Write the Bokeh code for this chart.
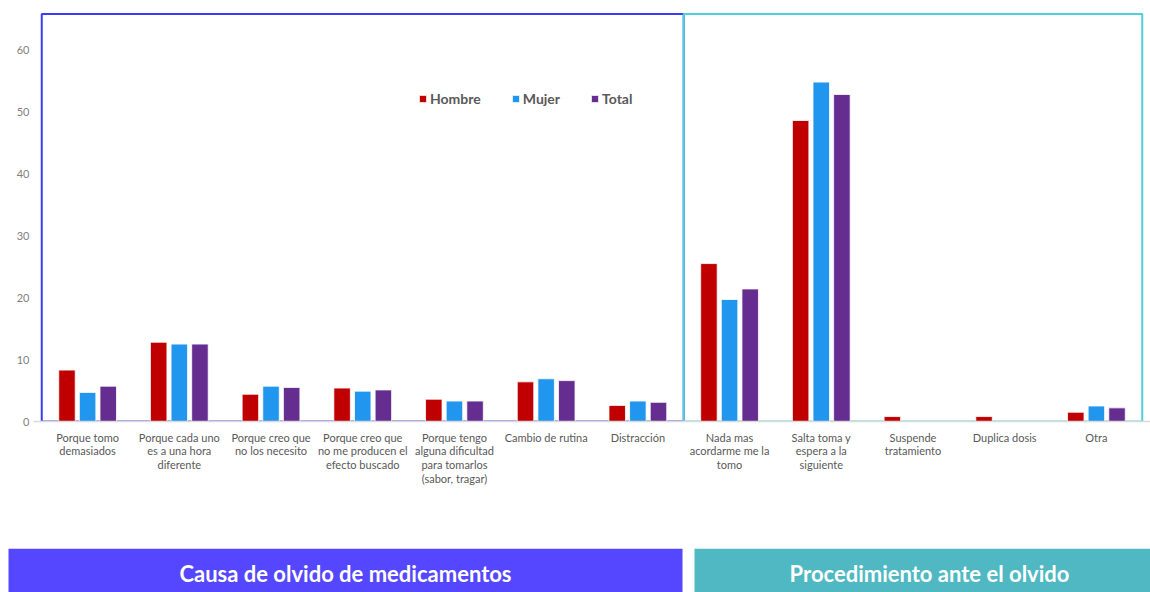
from bokeh.plotting import figure
from bokeh.models import FactorRange, Range1d, Legend, LegendItem, ColumnDataSource, FixedTicker
from bokeh.transform import dodge
from bokeh.layouts import column
from bokeh.embed import file_html
from bokeh.resources import INLINE
from bokeh.core.properties import value

categories = [
    "Porque tomo\ndemasiados",
    "Porque cada uno\nes a una hora\ndiferente",
    "Porque creo que\nno los necesito",
    "Porque creo que\nno me producen el\nefecto buscado",
    "Porque tengo\nalguna dificultad\npara tomarlos\n(sabor, tragar)",
    "Cambio de rutina",
    "Distracción",
    "Nada mas\nacordarme me la\ntomo",
    "Salta toma y\nespera a la\nsiguiente",
    "Suspende\ntratamiento",
    "Duplica dosis",
    "Otra",
]
hombre = [8.3, 12.8, 4.4, 5.4, 3.6, 6.4, 2.6, 25.5, 48.6, 0.8, 0.8, 1.5]
mujer = [4.7, 12.5, 5.7, 4.9, 3.3, 6.9, 3.3, 19.7, 54.8, 0.0, 0.0, 2.5]
total = [5.7, 12.5, 5.5, 5.1, 3.3, 6.6, 3.1, 21.4, 52.8, 0.0, 0.0, 2.2]
series_names = ["Hombre", "Mujer", "Total"]
series_colors = ["#C00000", "#2196EE", "#662D91"]
y_ticks = [0, 10, 20, 30, 40, 50, 60]
group_titles = ["Causa de olvido de medicamentos", "Procedimiento ante el olvido"]
group_sizes = [7, 5]

FONT = "Lato"

src = ColumnDataSource(dict(cat=categories, Hombre=hombre, Mujer=mujer, Total=total))

p = figure(
    x_range=FactorRange(*categories, range_padding=0.09, range_padding_units="absolute"),
    y_range=Range1d(0, 66.2),
    width=1150, height=548,
    output_backend="svg", toolbar_location=None,
    min_border_left=33, min_border_right=0, min_border_top=11, min_border_bottom=127,
)
p.frame_align = False
p.outline_line_color = None
p.xgrid.grid_line_color = None
p.ygrid.grid_line_color = None
p.background_fill_color = "white"
p.border_fill_color = "white"

# group boxes
ymax_box = 65.8
p.quad(left=[0], right=[group_sizes[0]], bottom=[0], top=[ymax_box],
       fill_color=None, line_color="#3B3BF5", line_width=2)
p.quad(left=[group_sizes[0]], right=[group_sizes[0] + group_sizes[1]], bottom=[0], top=[ymax_box],
       fill_color=None, line_color="#4FCFDA", line_width=2)

offsets = [-0.225, 0.0, 0.225]
renderers = []
for name, color, off in zip(series_names, series_colors, offsets):
    r = p.vbar(x=dodge("cat", off, range=p.x_range), top=name, width=0.18, source=src,
               fill_color=color, line_color="white", line_width=0.8)
    renderers.append(r)

legend = Legend(
    items=[LegendItem(label=n, renderers=[r]) for n, r in zip(series_names, renderers)],
    orientation="horizontal", location=(385, 314),
    border_line_color=None, background_fill_alpha=0,
    padding=0, margin=0, spacing=30,
    glyph_width=9, glyph_height=9, label_standoff=3, label_height=14,
    label_text_font=FONT, label_text_font_style="bold", label_text_font_size="14px",
    label_text_color="#595959",
)
p.add_layout(legend)

# axes
p.xaxis.axis_line_color = "#D9D9D9"
p.xaxis.axis_line_width = 1.5
p.xaxis.major_tick_line_color = None
p.xaxis.major_tick_out = 0
p.xaxis.major_tick_in = 0
p.xaxis.minor_tick_line_color = None
p.xaxis.major_label_standoff = 9
p.xaxis.major_label_text_font = FONT
p.xaxis.major_label_text_font_size = "11px"
p.xaxis.major_label_text_color = "#595959"
p.xaxis.major_label_text_line_height = 1.06

p.yaxis.ticker = FixedTicker(ticks=y_ticks)
p.yaxis.axis_line_color = None
p.yaxis.major_tick_line_color = None
p.yaxis.major_tick_out = 0
p.yaxis.major_tick_in = 0
p.yaxis.minor_tick_line_color = None
p.yaxis.major_label_standoff = 4
p.yaxis.major_label_text_font = FONT
p.yaxis.major_label_text_font_size = "11px"
p.yaxis.major_label_text_color = "#7F7F7F"

# banner row
b = figure(width=1150, height=44, x_range=Range1d(0, 1150), y_range=Range1d(0, 44),
           output_backend="svg", toolbar_location=None,
           x_axis_location=None, y_axis_location=None,
           min_border=0, min_border_left=0, min_border_right=0, min_border_top=0, min_border_bottom=0)
b.frame_align = False
b.grid.visible = False
b.outline_line_color = None
b.quad(left=[8, 694], right=[682, 1150], bottom=[0, 0], top=[44, 44],
       fill_color=["#5547FF", "#4FB8C2"], line_color=None)
b.text(x=[345, 929], y=[19, 19], text=group_titles,
       text_font=value(FONT), text_font_style="bold", text_font_size="22px",
       text_color="white", text_align="center", text_baseline="middle")

layout = column(p, b, spacing=0)
open("out.html", "w").write(file_html(layout, INLINE))
